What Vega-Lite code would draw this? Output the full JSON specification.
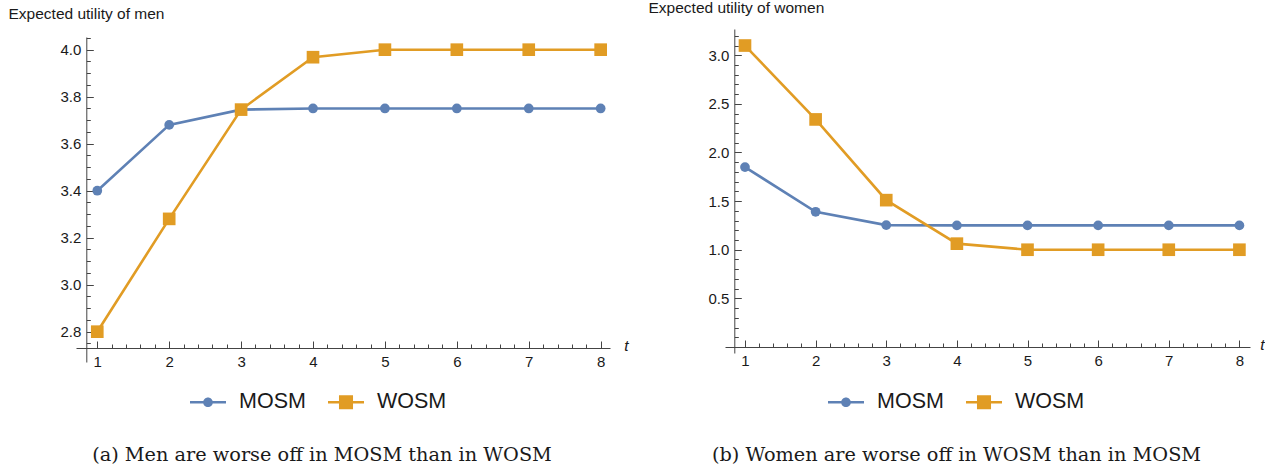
{
  "$schema": "https://vega.github.io/schema/vega-lite/v6.json",
  "background": "white",
  "padding": {"left": 8, "top": 0, "right": 0, "bottom": 0},
  "bounds": "flush",
  "spacing": 115,
  "config": {
    "view": {"stroke": null},
    "font": "Liberation Sans",
    "axis": {
      "grid": false,
      "domainColor": "#444444",
      "tickColor": "#444444",
      "domainWidth": 1,
      "tickWidth": 1,
      "labelFont": "Liberation Sans",
      "labelFontSize": 15,
      "labelColor": "#1a1a1a",
      "labelOverlap": false,
      "labelFlush": false,
      "titleFont": "Liberation Sans",
      "titleFontWeight": "normal",
      "titleColor": "#1a1a1a"
    },
    "legend": {
      "padding": 0
    }
  },
  "resolve": {"scale": {"color": "independent"}, "legend": {"color": "independent"}},
  "datasets": {
    "d": [
      {"panel": "men", "s": "MOSM", "t": 1, "u": 3.40},
      {"panel": "men", "s": "MOSM", "t": 2, "u": 3.68},
      {"panel": "men", "s": "MOSM", "t": 3, "u": 3.745},
      {"panel": "men", "s": "MOSM", "t": 4, "u": 3.75},
      {"panel": "men", "s": "MOSM", "t": 5, "u": 3.75},
      {"panel": "men", "s": "MOSM", "t": 6, "u": 3.75},
      {"panel": "men", "s": "MOSM", "t": 7, "u": 3.75},
      {"panel": "men", "s": "MOSM", "t": 8, "u": 3.75},
      {"panel": "men", "s": "WOSM", "t": 1, "u": 2.80},
      {"panel": "men", "s": "WOSM", "t": 2, "u": 3.28},
      {"panel": "men", "s": "WOSM", "t": 3, "u": 3.745},
      {"panel": "men", "s": "WOSM", "t": 4, "u": 3.968},
      {"panel": "men", "s": "WOSM", "t": 5, "u": 4.0},
      {"panel": "men", "s": "WOSM", "t": 6, "u": 4.0},
      {"panel": "men", "s": "WOSM", "t": 7, "u": 4.0},
      {"panel": "men", "s": "WOSM", "t": 8, "u": 4.0},
      {"panel": "women", "s": "MOSM", "t": 1, "u": 1.85},
      {"panel": "women", "s": "MOSM", "t": 2, "u": 1.39},
      {"panel": "women", "s": "MOSM", "t": 3, "u": 1.253},
      {"panel": "women", "s": "MOSM", "t": 4, "u": 1.25},
      {"panel": "women", "s": "MOSM", "t": 5, "u": 1.25},
      {"panel": "women", "s": "MOSM", "t": 6, "u": 1.25},
      {"panel": "women", "s": "MOSM", "t": 7, "u": 1.25},
      {"panel": "women", "s": "MOSM", "t": 8, "u": 1.25},
      {"panel": "women", "s": "WOSM", "t": 1, "u": 3.10},
      {"panel": "women", "s": "WOSM", "t": 2, "u": 2.34},
      {"panel": "women", "s": "WOSM", "t": 3, "u": 1.51},
      {"panel": "women", "s": "WOSM", "t": 4, "u": 1.0625},
      {"panel": "women", "s": "WOSM", "t": 5, "u": 1.0},
      {"panel": "women", "s": "WOSM", "t": 6, "u": 1.0},
      {"panel": "women", "s": "WOSM", "t": 7, "u": 1.0},
      {"panel": "women", "s": "WOSM", "t": 8, "u": 1.0}
    ]
  },
  "hconcat": [
    {
      "width": 534,
      "height": 333,
      "data": {"name": "d"},
      "transform": [{"filter": "datum.panel === 'men'"}],
      "title": {
        "text": "(a) Men are worse off in MOSM than in WOSM",
        "orient": "bottom",
        "anchor": "middle",
        "font": "DejaVu Serif",
        "fontSize": 19.3,
        "fontWeight": "normal",
        "color": "#1a1a1a",
        "offset": 33,
        "dx": -21
      },
      "encoding": {
        "x": {
          "field": "t", "type": "quantitative",
          "scale": {"domain": [0.704, 8.13], "nice": false, "zero": false},
          "axis": {
            "values": [1,1.2,1.4,1.6,1.8,2,2.2,2.4,2.6,2.8,3,3.2,3.4,3.6,3.8,4,4.2,4.4,4.6,4.8,5,5.2,5.4,5.6,5.8,6,6.2,6.4,6.6,6.8,7,7.2,7.4,7.6,7.8,8],
            "labelExpr": "abs(datum.value - round(datum.value)) < 0.001 ? format(datum.value, 'd') : ''",
            "tickSize": {"condition": {"test": "abs(datum.value - round(datum.value)) < 0.001", "value": -7}, "value": -4},
            "offset": -14,
            "labelPadding": 13,
            "title": "t",
            "titleFontStyle": "italic",
            "titleFontSize": 15.5,
            "titleAngle": 0,
            "titleAlign": "center",
            "titleBaseline": "middle",
            "titleX": 550,
            "titleY": -3
          }
        },
        "y": {
          "field": "u", "type": "quantitative",
          "scale": {"domain": [2.671, 4.088], "nice": false, "zero": false},
          "axis": {
            "values": [2.75,2.8,2.85,2.9,2.95,3,3.05,3.1,3.15,3.2,3.25,3.3,3.35,3.4,3.45,3.5,3.55,3.6,3.65,3.7,3.75,3.8,3.85,3.9,3.95,4,4.05],
            "labelExpr": "abs(datum.value*5 - round(datum.value*5)) < 0.001 ? format(datum.value, '.1f') : ''",
            "tickSize": {"condition": {"test": "abs(datum.value*5 - round(datum.value*5)) < 0.001", "value": -7}, "value": -4},
            "offset": -10.3,
            "labelPadding": 12.5,
            "domainDash": [325, 60],
            "title": "Expected utility of men",
            "titleFontSize": 15.5,
            "titleAngle": 0,
            "titleAlign": "left",
            "titleBaseline": "middle",
            "titleX": -78.3,
            "titleY": -16
          }
        },
        "color": {
          "field": "s", "type": "nominal",
          "scale": {"domain": ["MOSM", "WOSM"], "range": ["#5E81B5", "#E19C24"]},
          "legend": {
            "orient": "none",
            "legendX": 114,
            "legendY": 355,
            "direction": "horizontal",
            "title": null,
            "symbolSize": 1296,
            "symbolStrokeWidth": 0,
            "labelFont": "Liberation Sans",
            "labelFontSize": 21.5,
            "labelColor": "#1a1a1a",
            "labelOffset": 13,
            "columnPadding": 22,
            "encode": {
              "symbols": {
                "update": {
                  "shape": [
                    {"test": "datum.value === 'MOSM'", "value": "M-1,-0.07H1V0.07H-1Z M-0.27,0A0.27,0.27 0 1,1 0.27,0A0.27,0.27 0 1,1 -0.27,0Z"},
                    {"value": "M-1,-0.07H1V0.07H-1Z M-0.39,-0.39H0.39V0.39H-0.39Z"}
                  ],
                  "fill": [
                    {"test": "datum.value === 'MOSM'", "value": "#5E81B5"},
                    {"value": "#E19C24"}
                  ],
                  "stroke": {"value": "transparent"},
                  "strokeWidth": {"value": 0},
                  "opacity": {"value": 1},
                  "fillOpacity": {"value": 1}
                }
              }
            }
          }
        }
      },
      "layer": [
        {"mark": {"type": "line", "strokeWidth": 2.6}},
        {
          "mark": {"type": "point", "filled": true, "opacity": 1},
          "encoding": {
            "shape": {"field": "s", "type": "nominal", "scale": {"domain": ["MOSM", "WOSM"], "range": ["circle", "square"]}, "legend": null},
            "size": {"field": "s", "type": "nominal", "scale": {"domain": ["MOSM", "WOSM"], "range": [95, 160]}, "legend": null}
          }
        }
      ]
    },
    {
      "width": 525,
      "height": 324,
      "data": {"name": "d"},
      "transform": [{"filter": "datum.panel === 'women'"}],
      "title": {
        "text": "(b) Women are worse off in WOSM than in MOSM",
        "orient": "bottom",
        "anchor": "middle",
        "font": "DejaVu Serif",
        "fontSize": 19.3,
        "fontWeight": "normal",
        "color": "#1a1a1a",
        "offset": 33,
        "dx": -31
      },
      "encoding": {
        "x": {
          "field": "t", "type": "quantitative",
          "scale": {"domain": [0.717, 8.15], "nice": false, "zero": false},
          "axis": {
            "values": [1,1.2,1.4,1.6,1.8,2,2.2,2.4,2.6,2.8,3,3.2,3.4,3.6,3.8,4,4.2,4.4,4.6,4.8,5,5.2,5.4,5.6,5.8,6,6.2,6.4,6.6,6.8,7,7.2,7.4,7.6,7.8,8],
            "labelExpr": "abs(datum.value - round(datum.value)) < 0.001 ? format(datum.value, 'd') : ''",
            "tickSize": {"condition": {"test": "abs(datum.value - round(datum.value)) < 0.001", "value": -7}, "value": -4},
            "offset": -6,
            "labelPadding": 13,
            "title": "t",
            "titleFontStyle": "italic",
            "titleFontSize": 15.5,
            "titleAngle": 0,
            "titleAlign": "center",
            "titleBaseline": "middle",
            "titleX": 537,
            "titleY": -3
          }
        },
        "y": {
          "field": "u", "type": "quantitative",
          "scale": {"domain": [-0.062, 3.27], "nice": false, "zero": false},
          "axis": {
            "values": [0.1,0.2,0.3,0.4,0.5,0.6,0.7,0.8,0.9,1,1.1,1.2,1.3,1.4,1.5,1.6,1.7,1.8,1.9,2,2.1,2.2,2.3,2.4,2.5,2.6,2.7,2.8,2.9,3,3.1,3.2],
            "labelExpr": "abs(datum.value*2 - round(datum.value*2)) < 0.001 ? format(datum.value, '.1f') : ''",
            "tickSize": {"condition": {"test": "abs(datum.value*2 - round(datum.value*2)) < 0.001", "value": -7}, "value": -4},
            "offset": -9.3,
            "labelPadding": 12.5,
            "title": "Expected utility of women",
            "titleFontSize": 15.5,
            "titleAngle": 0,
            "titleAlign": "left",
            "titleBaseline": "middle",
            "titleX": -86.3,
            "titleY": -22
          }
        },
        "color": {
          "field": "s", "type": "nominal",
          "scale": {"domain": ["MOSM", "WOSM"], "range": ["#5E81B5", "#E19C24"]},
          "legend": {
            "orient": "none",
            "legendX": 103,
            "legendY": 355,
            "direction": "horizontal",
            "title": null,
            "symbolSize": 1296,
            "symbolStrokeWidth": 0,
            "labelFont": "Liberation Sans",
            "labelFontSize": 21.5,
            "labelColor": "#1a1a1a",
            "labelOffset": 13,
            "columnPadding": 22,
            "encode": {
              "symbols": {
                "update": {
                  "shape": [
                    {"test": "datum.value === 'MOSM'", "value": "M-1,-0.07H1V0.07H-1Z M-0.27,0A0.27,0.27 0 1,1 0.27,0A0.27,0.27 0 1,1 -0.27,0Z"},
                    {"value": "M-1,-0.07H1V0.07H-1Z M-0.39,-0.39H0.39V0.39H-0.39Z"}
                  ],
                  "fill": [
                    {"test": "datum.value === 'MOSM'", "value": "#5E81B5"},
                    {"value": "#E19C24"}
                  ],
                  "stroke": {"value": "transparent"},
                  "strokeWidth": {"value": 0},
                  "opacity": {"value": 1},
                  "fillOpacity": {"value": 1}
                }
              }
            }
          }
        }
      },
      "layer": [
        {"mark": {"type": "line", "strokeWidth": 2.6}},
        {
          "mark": {"type": "point", "filled": true, "opacity": 1},
          "encoding": {
            "shape": {"field": "s", "type": "nominal", "scale": {"domain": ["MOSM", "WOSM"], "range": ["circle", "square"]}, "legend": null},
            "size": {"field": "s", "type": "nominal", "scale": {"domain": ["MOSM", "WOSM"], "range": [95, 160]}, "legend": null}
          }
        }
      ]
    }
  ]
}
